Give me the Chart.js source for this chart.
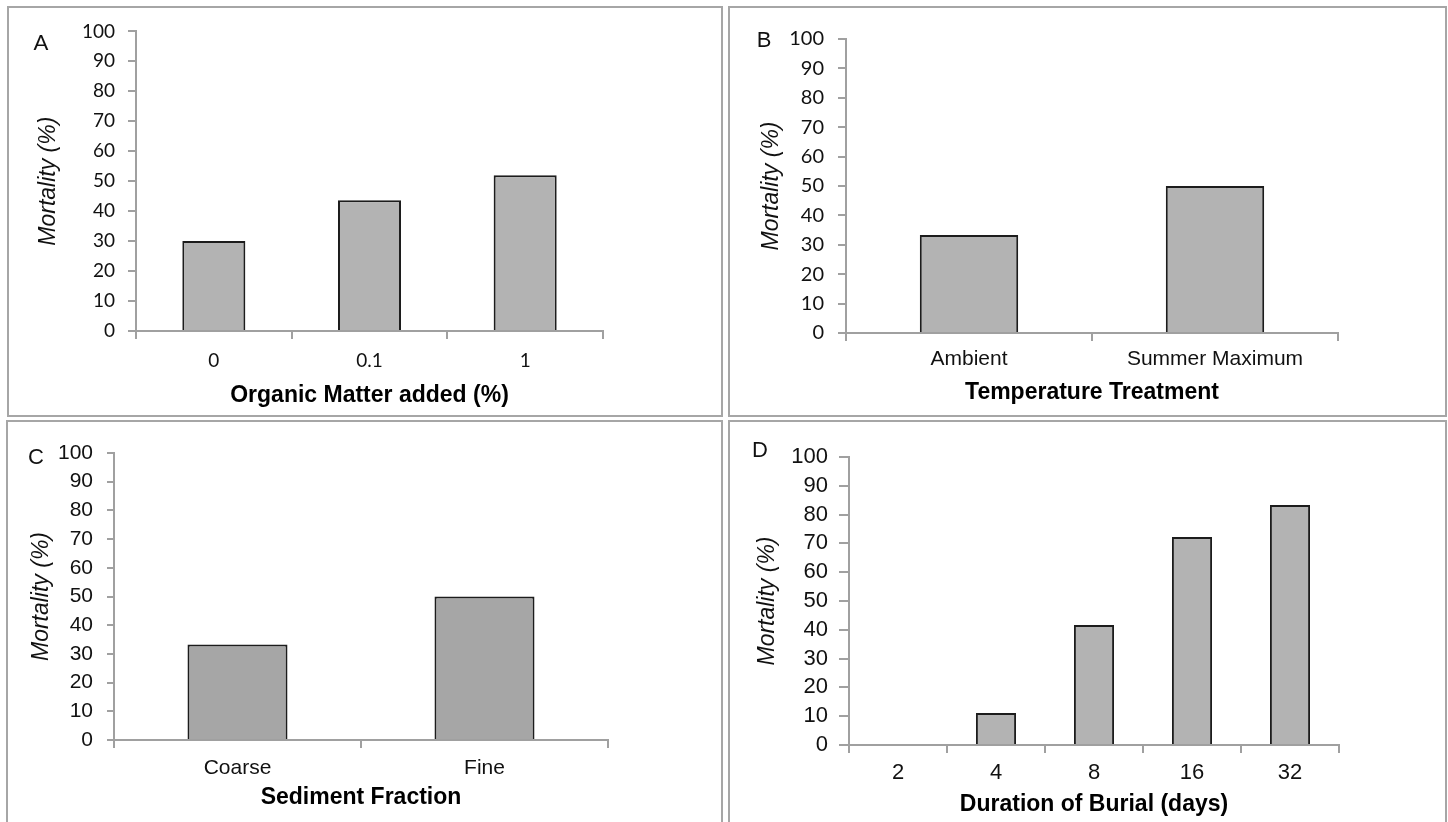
<!DOCTYPE html>
<html>
<head>
<meta charset="utf-8">
<script src="https://cdn.jsdelivr.net/npm/chart.js@4.4.1/dist/chart.umd.min.js"></script>
<style>
  html, body { margin:0; padding:0; background:#fff; width:1448px; height:822px; overflow:hidden; }
  canvas { position:absolute; }
  .box { position:absolute; border:2px solid #a6a6a6; box-sizing:border-box; pointer-events:none; }
  .tag { position:absolute; color:#111; transform:translate(-50%,-50%); line-height:1; }
</style>
</head>
<body>
<canvas id="chartA" width="713" height="408" style="left:8px;top:7px;width:713px;height:408px"></canvas>
<canvas id="chartB" width="715" height="408" style="left:730px;top:7px;width:715px;height:408px"></canvas>
<canvas id="chartC" width="714" height="401" style="left:7px;top:421px;width:714px;height:401px"></canvas>
<canvas id="chartD" width="715" height="401" style="left:730px;top:421px;width:715px;height:401px"></canvas>

<div class="box" style="left:7px;top:6px;width:716px;height:411px"></div>
<div class="box" style="left:728px;top:6px;width:719px;height:411px"></div>
<div class="box" style="left:6px;top:420px;width:717px;height:420px"></div>
<div class="box" style="left:728px;top:420px;width:719px;height:420px"></div>

<div class="tag" style="left:41px;top:41px;font:22px Lato, sans-serif">A</div>
<div class="tag" style="left:764px;top:40px;font:22px 'Liberation Sans', Arial, sans-serif">B</div>
<div class="tag" style="left:36px;top:457px;font:22px 'Liberation Sans', Arial, sans-serif">C</div>
<div class="tag" style="left:760px;top:450px;font:22px 'Liberation Sans', Arial, sans-serif">D</div>

<script>
// panel A - organic matter
const catsA = ['0', '0.1', '1'];
const valsA = [30, 43.6, 52];
// panel B - temperature
const catsB = ['Ambient', 'Summer Maximum'];
const valsB = [33.3, 50];
// panel C - sediment
const catsC = ['Coarse', 'Fine'];
const valsC = [33.3, 50];
// panel D - burial duration
const catsD = ['2', '4', '8', '16', '32'];
const valsD = [0, 11.1, 41.7, 72.2, 83.3];

const yMin = 0, yMax = 100, yStep = 10;
const yTitle = 'Mortality (%)';

const ARIAL = "'Liberation Sans', Arial, sans-serif";
const CALI = "Lato, 'Open Sans', sans-serif";
const AXIS = '#a0a0a0';

function panel(id, cats, vals, o) {
  new Chart(document.getElementById(id), {
    type: 'bar',
    data: {
      labels: cats,
      datasets: [{
        data: vals,
        backgroundColor: o.fill,
        borderColor: '#1c1c1c',
        borderWidth: 2,
        categoryPercentage: 1,
        barPercentage: o.bar
      }]
    },
    options: {
      responsive: false,
      animation: false,
      events: [],
      layout: { padding: { left: 0, top: o.top, right: o.right, bottom: 0 } },
      plugins: { legend: { display: false }, tooltip: { enabled: false } },
      scales: {
        x: {
          afterFit: (ax) => { ax.height = o.xh; },
          border: { color: AXIS, width: 2 },
          grid: { drawOnChartArea: false, color: AXIS, lineWidth: 2, tickLength: 8 },
          ticks: { autoSkip: false, maxRotation: 0, color: '#111', padding: o.xpad, font: { family: o.xfam, size: o.xsize } },
          title: {
            display: true, text: o.xtitle, color: '#000',
            font: { family: ARIAL, size: 23, weight: 'bold' },
            padding: { top: 0, bottom: o.xtpad }
          }
        },
        y: {
          min: yMin, max: yMax,
          afterFit: (ax) => { ax.width = o.yw; },
          border: { color: AXIS, width: 2 },
          grid: { drawOnChartArea: false, color: AXIS, lineWidth: 2, tickLength: o.ytl },
          ticks: { stepSize: yStep, autoSkip: false, color: '#111', padding: o.ypad, font: { family: o.yfam, size: o.ysize } },
          title: {
            display: true, text: yTitle, color: '#111',
            font: { family: ARIAL, size: 23, style: 'italic' },
            padding: { top: o.ytpad, bottom: 0 }
          }
        }
      }
    }
  });
}

panel('chartA', catsA, valsA, {
  fill: '#b3b3b3', bar: 0.405, top: 23, right: 118, yw: 128, xh: 84,
  ytl: 8, ypad: 13, yfam: CALI, ysize: 19, ytpad: 27,
  xpad: 10, xfam: CALI, xsize: 19, xtitle: 'Organic Matter added (%)', xtpad: 6
});
panel('chartB', catsB, valsB, {
  fill: '#b3b3b3', bar: 0.4, top: 32, right: 107, yw: 116, xh: 82,
  ytl: 8, ypad: 14, yfam: CALI, ysize: 20, ytpad: 28,
  xpad: 6, xfam: ARIAL, xsize: 21, xtitle: 'Temperature Treatment', xtpad: 9
});
panel('chartC', catsC, valsC, {
  fill: '#a6a6a6', bar: 0.405, top: 32, right: 113, yw: 107, xh: 82,
  ytl: 7, ypad: 14, yfam: ARIAL, ysize: 21, ytpad: 21,
  xpad: 8, xfam: ARIAL, xsize: 21, xtitle: 'Sediment Fraction', xtpad: 11
});
panel('chartD', catsD, valsD, {
  fill: '#b3b3b3', bar: 0.41, top: 36, right: 106, yw: 119, xh: 77,
  ytl: 10, ypad: 11, yfam: ARIAL, ysize: 22, ytpad: 24,
  xpad: 7, xfam: ARIAL, xsize: 22, xtitle: 'Duration of Burial (days)', xtpad: 4
});
</script>
</body>
</html>
